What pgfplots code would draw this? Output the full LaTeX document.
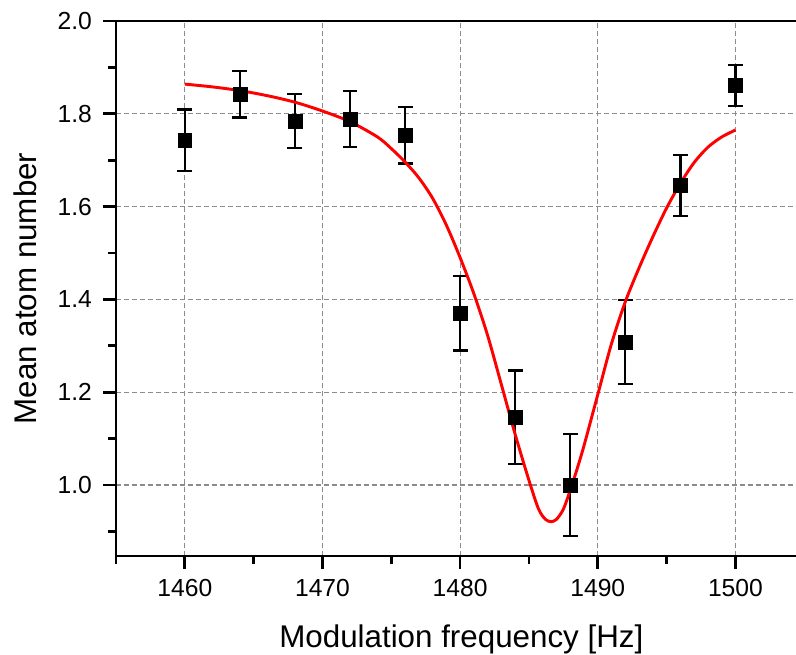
\documentclass[border=0pt]{standalone}
\usepackage{fontspec}
\setmainfont{Liberation Sans}
\usepackage{pgfplots}
\pgfplotsset{compat=1.18}
\definecolor{gridgray}{RGB}{140,140,140}
\begin{document}
\begin{tikzpicture}
\path[use as bounding box] (-87pt,-73.5pt) rectangle (510pt,417pt);
\begin{axis}[
 scale only axis, width=510pt, height=401.25pt,
 xmin=1455, xmax=1504.4, ymin=0.847, ymax=2.0,
 axis x line*=box, axis y line*=left,
 axis line style={line width=2pt, -},
 xtick={1460,1470,1480,1490,1500}, minor xtick={1455,1465,1475,1485,1495,1505},
 ytick={1.0,1.2,1.4,1.6,1.8,2.0}, minor ytick={0.9,1.1,1.3,1.5,1.7,1.9},
 xtick pos=left, ytick pos=left,
 tick align=outside,
 major tick length=9.5pt, minor tick length=6pt,
 tick style={black, line width=2pt},
 grid=major,
 major grid style={gridgray, line width=0.8pt, dash pattern=on 3.75pt off 2.25pt},
 /pgf/number format/assume math mode=true,
 yticklabel style={/pgf/number format/fixed, /pgf/number format/fixed zerofill, /pgf/number format/precision=1, xshift=-5pt},
 xticklabel style={/pgf/number format/set thousands separator={}, yshift=-4.5pt},
 tick label style={font=\fontsize{18.5}{22}\selectfont},
 xlabel={Modulation frequency [Hz]},
 ylabel={Mean atom number},
 label style={font=\fontsize{23.5}{28}\selectfont},
 xlabel style={at={([xshift=4pt,yshift=-68.25pt]axis description cs:0.5,0)}, anchor=base},
 ylabel style={at={([xshift=-59.25pt]axis description cs:0,0.5)}, anchor=base},
 clip=false,
]
\addplot[only marks, mark=square*, mark size=5.2pt, black,
  error bars/.cd, y dir=both, y explicit,
  error bar style={line width=1.7pt, black},
  error mark options={rotate=90, mark size=5.6pt, line width=1.7pt, black}]
 table[x=x, y=y, y error=e] {
x y e
1460 1.743 0.066
1464 1.842 0.050
1468 1.784 0.058
1472 1.789 0.060
1476 1.754 0.061
1480 1.370 0.080
1484 1.146 0.101
1488 1.000 0.110
1492 1.308 0.090
1496 1.646 0.066
1500 1.861 0.044
};
\addplot[red, line width=2.2pt, smooth] table {
1460 1.864
1462 1.858
1464 1.850
1466 1.839
1468 1.825
1470 1.806
1472 1.783
1474 1.750
1475 1.725
1476 1.696
1477 1.662
1478 1.618
1479 1.560
1480 1.490
1481 1.412
1482 1.322
1483 1.216
1484 1.109
1485 1.010
1485.7 0.948
1486.2 0.926
1486.6 0.921
1487 0.926
1487.5 0.948
1488 0.989
1488.5 1.035
1489 1.085
1490 1.195
1491 1.305
1492 1.395
1493 1.468
1494 1.535
1495 1.597
1496 1.650
1497 1.695
1498 1.728
1499 1.750
1500 1.765
};
\end{axis}
\end{tikzpicture}
\end{document}
